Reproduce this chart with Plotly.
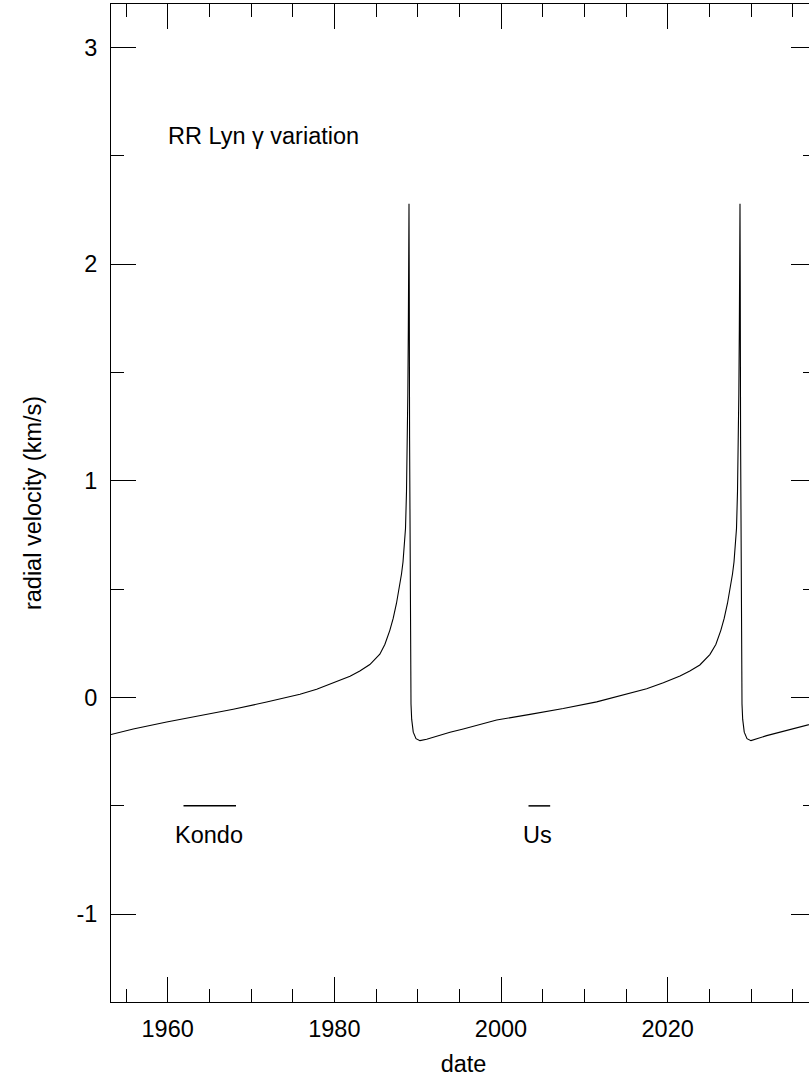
import plotly.graph_objects as go

# ---- data ----
# gamma-velocity curve (year, km/s)
curve_year = [
    1953.20, 1955.87, 1959.88, 1963.88, 1967.87, 1971.88, 1975.88, 1977.88,
    1979.88, 1981.88, 1983.06, 1984.26, 1985.46, 1986.06, 1986.66, 1987.06,
    1987.46, 1987.76, 1988.06, 1988.24, 1988.40, 1988.54, 1988.66, 1988.75,
    1988.82, 1988.88, 1988.92, 1988.96,
    1988.99, 1989.03, 1989.08, 1989.13, 1989.20, 1989.28, 1989.47, 1989.80,
    1990.28, 1991.08, 1991.48, 1993.88, 1995.47, 1999.48, 2003.48, 2007.47,
    2011.48, 2015.48, 2017.48, 2019.48, 2021.48, 2022.66, 2023.86, 2025.06,
    2025.78, 2026.38, 2026.78, 2027.18, 2027.48, 2027.78, 2027.96, 2028.12,
    2028.26, 2028.38, 2028.47, 2028.54, 2028.60, 2028.64, 2028.68,
    2028.71, 2028.75, 2028.80, 2028.85, 2028.92, 2029.00, 2029.19, 2029.52,
    2030.00, 2031.88, 2034.28, 2036.95, 2037.80,
]
curve_vel = [
    -0.171, -0.145, -0.113, -0.085, -0.054, -0.021, 0.015, 0.038,
    0.067, 0.098, 0.122, 0.152, 0.200, 0.245, 0.310, 0.365,
    0.435, 0.500, 0.570, 0.625, 0.690, 0.780, 0.950, 1.150,
    1.400, 1.700, 2.000, 2.278,
    1.900, 1.200, 0.500, 0.150, -0.030, -0.100, -0.160, -0.190,
    -0.199, -0.193, -0.188, -0.160, -0.145, -0.104, -0.078, -0.051,
    -0.020, 0.018, 0.040, 0.068, 0.099, 0.122, 0.150, 0.198,
    0.245, 0.310, 0.365, 0.435, 0.500, 0.570, 0.625, 0.690,
    0.780, 0.950, 1.150, 1.400, 1.700, 2.000, 2.278,
    1.900, 1.200, 0.500, 0.150, -0.030, -0.100, -0.160, -0.190,
    -0.199, -0.176, -0.153, -0.125, -0.117,
]

# observing-epoch bars
kondo_years = [1961.9, 1968.2]
us_years = [2003.3, 2005.9]
bar_level = -0.5

# text labels
title_text = "RR Lyn \u03b3 variation"
title_pos = (1959.8, 2.59)
kondo_label_pos = (1960.6, -0.635)
us_label_pos = (2002.4, -0.635)

x_range = [1953.2, 2037.8]
y_range = [-1.405, 3.20]
x_major = [1960, 1980, 2000, 2020]
x_major_text = ["1960", "1980", "2000", "2020"]
x_minor = [1955, 1965, 1970, 1975, 1985, 1990, 1995, 2005, 2010, 2015, 2025, 2030, 2035]
y_major = [-1, 0, 1, 2, 3]
y_major_text = ["-1", "0", "1", "2", "3"]
y_minor = [-1.0, -0.5, 0.0, 0.5, 1.0, 1.5, 2.0, 2.5, 3.0]

FONT = "Liberation Sans, Arial, sans-serif"
FS = 23.5

fig = go.Figure()
fig.add_trace(go.Scatter(x=curve_year, y=curve_vel, mode="lines",
                         line=dict(color="black", width=1.1), showlegend=False,
                         hoverinfo="skip"))
fig.add_trace(go.Scatter(x=kondo_years, y=[bar_level] * 2, mode="lines",
                         line=dict(color="black", width=1.5), showlegend=False))
fig.add_trace(go.Scatter(x=us_years, y=[bar_level] * 2, mode="lines",
                         line=dict(color="black", width=1.5), showlegend=False))

fig.add_annotation(x=title_pos[0], y=title_pos[1], text=title_text, showarrow=False,
                   xanchor="left", yanchor="middle", font=dict(size=FS, color="black"))
fig.add_annotation(x=kondo_label_pos[0], y=kondo_label_pos[1], text="Kondo", showarrow=False,
                   xanchor="left", yanchor="middle", font=dict(size=FS, color="black"))
fig.add_annotation(x=us_label_pos[0], y=us_label_pos[1], text="Us", showarrow=False,
                   xanchor="left", yanchor="middle", font=dict(size=FS, color="black"))

fig.update_layout(
    width=830, height=1078,
    margin=dict(l=111, r=14, t=4, b=76),
    paper_bgcolor="white", plot_bgcolor="white",
    font=dict(family=FONT, size=FS, color="black"),
    xaxis=dict(
        range=x_range, tickmode="array", tickvals=x_major, ticktext=x_major_text,
        ticks="inside", ticklen=25, tickwidth=1, tickcolor="black",
        minor=dict(tickmode="array", tickvals=x_minor, ticks="inside", ticklen=13,
                   tickwidth=1, tickcolor="black", showgrid=False),
        showline=True, linecolor="black", linewidth=1, mirror="ticks",
        showgrid=False, zeroline=False, ticklabelstandoff=6,
        title=dict(text="date", standoff=14, font=dict(size=FS)),
    ),
    yaxis=dict(
        range=y_range, tickmode="array", tickvals=y_major, ticktext=y_major_text,
        ticks="inside", ticklen=25, tickwidth=1, tickcolor="black",
        minor=dict(tickmode="array", tickvals=y_minor, ticks="inside", ticklen=13,
                   tickwidth=1, tickcolor="black", showgrid=False),
        showline=True, linecolor="black", linewidth=1, mirror="ticks",
        showgrid=False, zeroline=False, ticklabelstandoff=8,
        title=dict(text="radial velocity (km/s)", standoff=28, font=dict(size=FS)),
    ),
)

fig.write_html("out.html", config={"displayModeBar": False},
               post_script="document.body.style.margin='0px';document.body.style.overflow='hidden';")
